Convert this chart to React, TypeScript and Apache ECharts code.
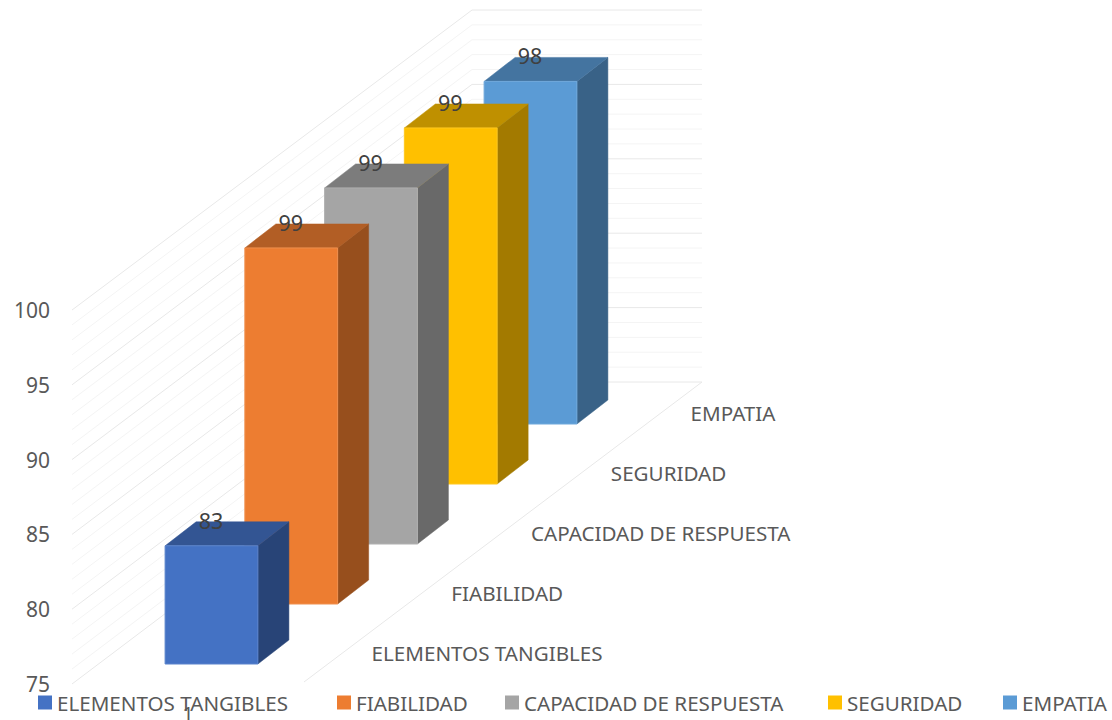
import React, { useEffect, useRef } from "react";
import * as echarts from "echarts";

const xCategories = ["1"];
const depthCategories = ["ELEMENTOS TANGIBLES", "FIABILIDAD", "CAPACIDAD DE RESPUESTA", "SEGURIDAD", "EMPATIA"];
const barValues = [82.9, 98.8, 98.8, 98.8, 97.9];
const yTicksAll = [75, 76, 77, 78, 79, 80, 81, 82, 83, 84, 85, 86, 87, 88, 89, 90, 91, 92, 93, 94, 95, 96, 97, 98, 99, 100];

const frontColors = ["#4472C4", "#ED7D31", "#A5A5A5", "#FFC000", "#5B9BD5"];
const topColors = ["#335593", "#B25E25", "#7C7C7C", "#BF9000", "#4474A0"];
const sideColors = ["#284477", "#974F1D", "#696969", "#A37A00", "#396287"];
const edgeColors = ["#5A83CC", "#F0904F", "#B0B0B0", "#FFC81F", "#6FA8DB"];
const legendLefts = [38, 337, 505, 828, 1003];

const FONT = '"Noto Sans", sans-serif';
const TEXT = "#595959";
const WALL_DX = 400;
const BACK_RIGHT_X = 702;
const STEP_X = 79.75;
const STEP_Y = 60;
const FIRST_DX = 23.5;
const FIRST_DY = 20;
const BAR_DX = 31;
const BAR_DY = 24;

const backY = (y: number) => 10 + ((y - 310) * 372) / 374;

const renderWall = (params: any, api: any) => {
  const v = api.value(1);
  const p = api.coord([0, v]);
  const left = p[0] - api.size([1, 0])[0] / 2;
  const major = v % 5 === 0;
  const by = backY(p[1]);
  const children: any[] = [
    {
      type: "polyline",
      shape: { points: [[left, p[1]], [left + WALL_DX, by], [BACK_RIGHT_X, by]] },
      style: { fill: "none", stroke: major ? "#E8E8E8" : "#F4F4F4", lineWidth: 1 },
    },
  ];
  if (v === 75) {
    children.push({
      type: "line",
      shape: { x1: left + api.size([1, 0])[0], y1: p[1] - 2, x2: BACK_RIGHT_X, y2: by },
      style: { stroke: "#E8E8E8", lineWidth: 1 },
    });
  }
  return { type: "group", children };
};

const makeRenderBar = (i: number) => (params: any, api: any) => {
  const center = api.coord([0, api.value(1)]);
  const base = api.coord([0, 75]);
  const band = api.size([1, 0])[0];
  const w = band * 0.4;
  const x0 = center[0] - w / 2 + FIRST_DX + STEP_X * i;
  const shift = FIRST_DY + STEP_Y * i;
  const yTop = center[1] - shift;
  const yBottom = base[1] - shift;
  const x1 = x0 + w;
  return {
    type: "group",
    children: [
      {
        type: "polygon",
        shape: { points: [[x1, yTop], [x1 + BAR_DX, yTop - BAR_DY], [x1 + BAR_DX, yBottom - BAR_DY], [x1, yBottom]] },
        style: { fill: sideColors[i], stroke: sideColors[i], lineWidth: 0.5 },
      },
      {
        type: "polygon",
        shape: { points: [[x0, yTop], [x0 + BAR_DX, yTop - BAR_DY], [x1 + BAR_DX, yTop - BAR_DY], [x1, yTop]] },
        style: { fill: topColors[i], stroke: topColors[i], lineWidth: 0.5 },
      },
      {
        type: "rect",
        shape: { x: x0, y: yTop, width: w, height: yBottom - yTop },
        style: { fill: frontColors[i], stroke: edgeColors[i], lineWidth: 1 },
      },
      {
        type: "text",
        x: x0 + w / 2 - 0.5,
        y: yTop - BAR_DY - 1.5,
        z2: 50,
        style: {
          text: String(Math.round(api.value(1))),
          fontFamily: FONT,
          fontSize: 21.5,
          fill: "#404040",
          align: "center",
          verticalAlign: "middle",
        },
      },
      {
        type: "text",
        x: x0 + 206.5,
        y: yBottom - 11,
        style: {
          text: depthCategories[i],
          fontFamily: FONT,
          fontSize: 20.6,
          fill: TEXT,
          align: "left",
          verticalAlign: "middle",
        },
      },
    ],
  };
};

export default function App() {
  const ref = useRef<HTMLDivElement>(null);
  useEffect(() => {
    const chart = echarts.init(ref.current!, undefined, { renderer: "svg" });
    chart.setOption({
      animation: false,
      backgroundColor: "#FFFFFF",
      grid: { left: 72, top: 310, width: 232, height: 374, containLabel: false, outerBoundsMode: "none" },
      legend: depthCategories.map((name, i) => ({
        left: legendLefts[i],
        top: 692,
        icon: "rect",
        itemWidth: 14,
        itemHeight: 14,
        padding: 0,
        textStyle: { fontFamily: FONT, fontSize: 20.6, color: TEXT },
        data: [name],
      })),
      xAxis: {
        type: "category",
        data: xCategories,
        axisLine: { show: false },
        axisTick: { show: false },
        axisLabel: { show: true, margin: 19, fontFamily: FONT, fontSize: 20, color: TEXT },
      },
      yAxis: {
        type: "value",
        min: 75,
        max: 100,
        interval: 5,
        axisLine: { show: false },
        axisTick: { show: false },
        splitLine: { show: false },
        axisLabel: { margin: 22, fontFamily: FONT, fontSize: 21, color: TEXT, padding: [3, 0, 0, 0] },
      },
      series: [
        {
          type: "custom",
          name: "wall",
          z: 1,
          silent: true,
          renderItem: renderWall,
          data: yTicksAll.map((v) => [0, v]),
          encode: { x: 0, y: 1 },
        },
        ...depthCategories.map((name, i) => ({
          type: "custom",
          name,
          z: 10 - i,
          itemStyle: { color: frontColors[i] },
          renderItem: makeRenderBar(i),
          data: [[0, barValues[i]]],
          encode: { x: 0, y: 1 },
        })),
      ],
    });
    return () => chart.dispose();
  }, []);
  return <div ref={ref} style={{ position: "absolute", left: 0, top: 0, width: 1112, height: 720 }} />;
}
